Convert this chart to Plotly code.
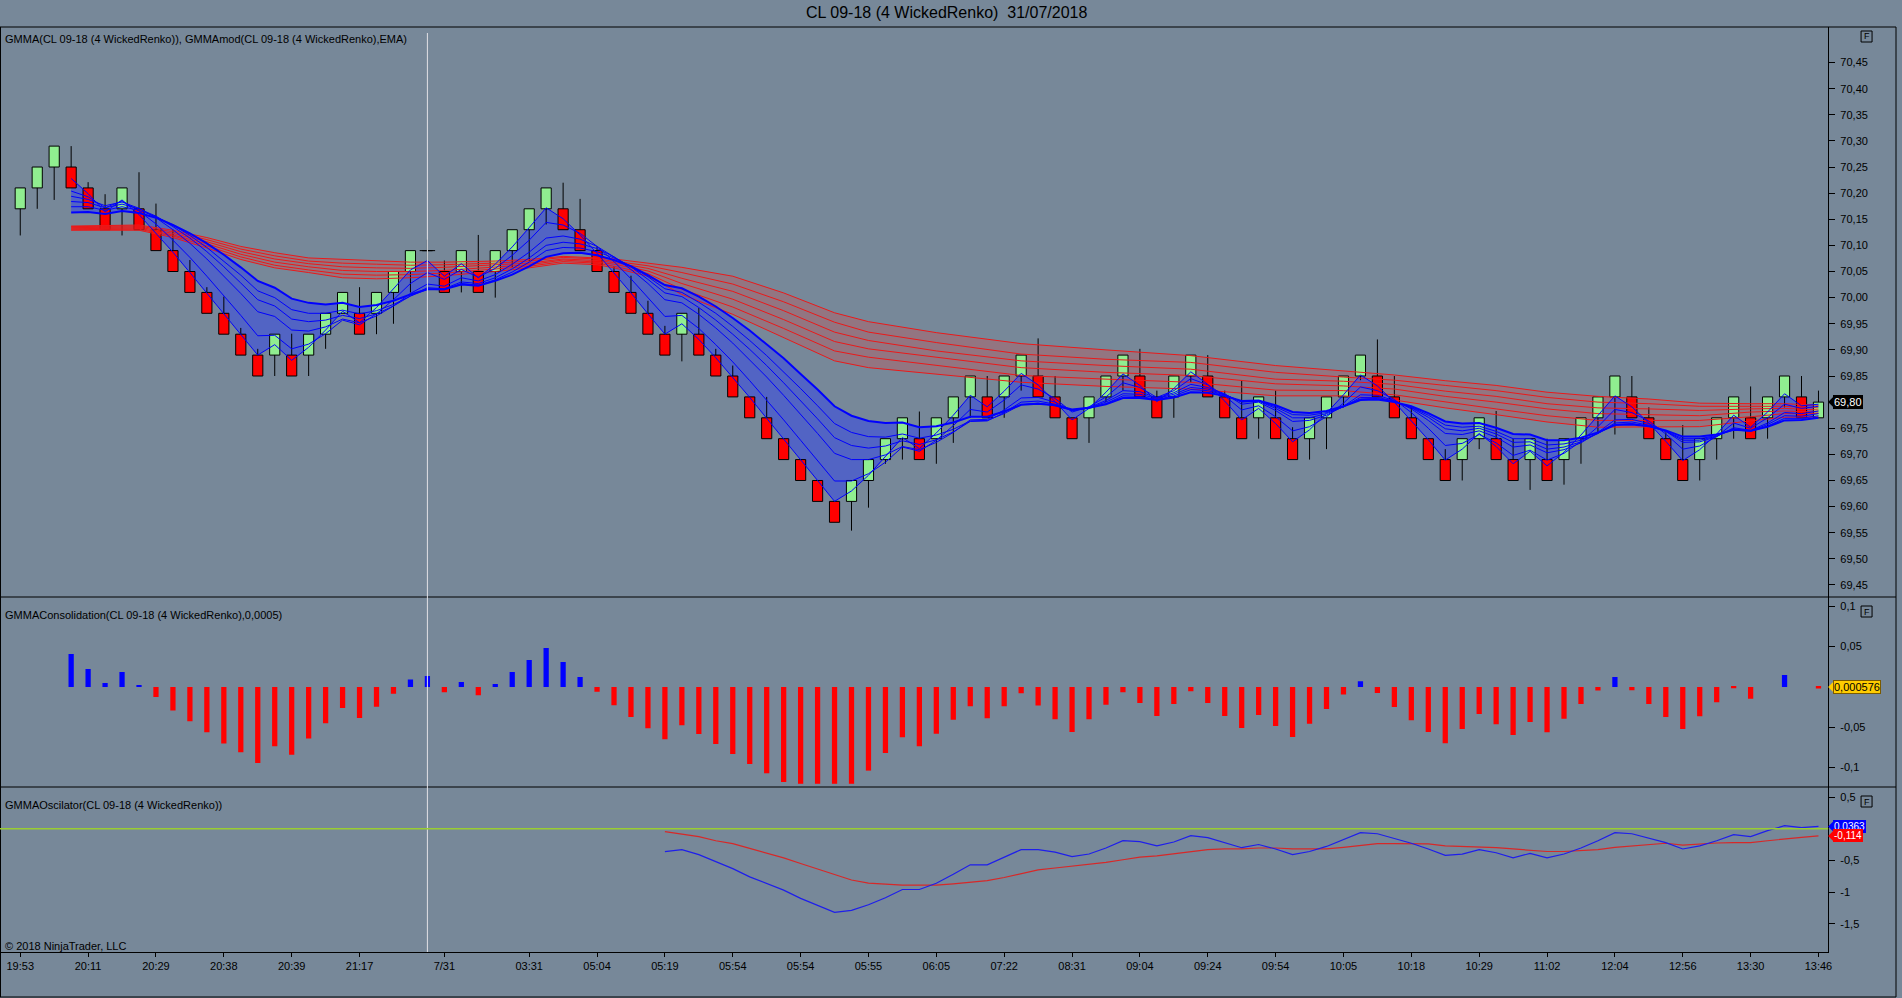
import plotly.graph_objects as go
from plotly.subplots import make_subplots

W, H = 1902, 998
FONT = 'Liberation Sans, Arial, sans-serif'
BG = '#778899'

chart_title = 'CL 09-18 (4 WickedRenko)  31/07/2018'
label_gmma = 'GMMA(CL 09-18 (4 WickedRenko)), GMMAmod(CL 09-18 (4 WickedRenko),EMA)'
label_cons = 'GMMAConsolidation(CL 09-18 (4 WickedRenko),0,0005)'
label_osc = 'GMMAOscilator(CL 09-18 (4 WickedRenko))'
label_copy = '\u00a9 2018 NinjaTrader, LLC'

# renko bricks, one per bar (bar 0 .. 106)
opens = [70.17, 70.21, 70.25, 70.25, 70.21, 70.17, 70.17, 70.17, 70.13, 70.09,
         70.05, 70.01, 69.97, 69.93, 69.89, 69.89, 69.89, 69.89, 69.93, 69.97,
         69.97, 69.97, 70.01, 70.05, 70.09, 70.05, 70.05, 70.05, 70.05, 70.09,
         70.13, 70.17, 70.17, 70.13, 70.09, 70.05, 70.01, 69.97, 69.93, 69.93,
         69.93, 69.89, 69.85, 69.81, 69.77, 69.73, 69.69, 69.65, 69.61, 69.61,
         69.65, 69.69, 69.73, 69.73, 69.73, 69.77, 69.81, 69.81, 69.81, 69.85,
         69.85, 69.81, 69.77, 69.77, 69.81, 69.85, 69.85, 69.81, 69.81, 69.85,
         69.85, 69.81, 69.77, 69.77, 69.77, 69.73, 69.73, 69.77, 69.81, 69.85,
         69.85, 69.81, 69.77, 69.73, 69.69, 69.69, 69.73, 69.73, 69.69, 69.69,
         69.69, 69.69, 69.73, 69.77, 69.81, 69.81, 69.77, 69.73, 69.69, 69.69,
         69.73, 69.77, 69.77, 69.77, 69.81, 69.81, 69.77]
highs = [70.21, 70.25, 70.29, 70.29, 70.221, 70.198, 70.21, 70.24, 70.18, 70.13,
         70.072, 70.02, 70.002, 69.942, 69.902, 69.93, 69.931, 69.93, 69.97, 70.01,
         70.02, 70.01, 70.05, 70.09, 70.111, 70.071, 70.09, 70.12, 70.09, 70.13,
         70.17, 70.21, 70.22, 70.189, 70.098, 70.06, 70.042, 69.994, 69.946, 69.97,
         69.98, 69.902, 69.87, 69.81, 69.81, 69.73, 69.69, 69.65, 69.61, 69.65,
         69.69, 69.73, 69.77, 69.782, 69.77, 69.81, 69.85, 69.85, 69.85, 69.89,
         69.922, 69.85, 69.77, 69.81, 69.85, 69.89, 69.902, 69.822, 69.85, 69.89,
         69.89, 69.822, 69.842, 69.81, 69.822, 69.752, 69.77, 69.81, 69.85, 69.89,
         69.92, 69.85, 69.79, 69.73, 69.71, 69.73, 69.77, 69.783, 69.73, 69.73,
         69.73, 69.73, 69.77, 69.81, 69.85, 69.85, 69.79, 69.742, 69.756, 69.73,
         69.77, 69.81, 69.83, 69.81, 69.85, 69.85, 69.822]
lows = [70.119, 70.17, 70.187, 70.21, 70.17, 70.13, 70.119, 70.13, 70.09, 70.05,
        70.01, 69.97, 69.93, 69.89, 69.85, 69.85, 69.85, 69.85, 69.902, 69.97,
        69.93, 69.93, 69.95, 70.01, 70.07, 70.01, 70.01, 70.01, 70.0, 70.058,
        70.07, 70.14, 70.13, 70.09, 70.05, 70.01, 69.97, 69.93, 69.89, 69.878,
        69.89, 69.85, 69.81, 69.77, 69.73, 69.69, 69.65, 69.61, 69.57, 69.554,
        69.598, 69.682, 69.69, 69.69, 69.682, 69.722, 69.77, 69.77, 69.77, 69.822,
        69.81, 69.77, 69.73, 69.722, 69.80, 69.822, 69.81, 69.77, 69.77, 69.838,
        69.81, 69.77, 69.73, 69.73, 69.73, 69.69, 69.69, 69.71, 69.79, 69.842,
        69.81, 69.77, 69.73, 69.69, 69.65, 69.65, 69.71, 69.69, 69.65, 69.632,
        69.65, 69.642, 69.682, 69.742, 69.738, 69.77, 69.73, 69.69, 69.65, 69.65,
        69.69, 69.73, 69.73, 69.73, 69.79, 69.77, 69.77]
closes = [70.21, 70.25, 70.29, 70.21, 70.17, 70.13, 70.21, 70.13, 70.09, 70.05,
          70.01, 69.97, 69.93, 69.89, 69.85, 69.93, 69.85, 69.93, 69.97, 70.01,
          69.93, 70.01, 70.05, 70.09, 70.09, 70.01, 70.09, 70.01, 70.09, 70.13,
          70.17, 70.21, 70.13, 70.09, 70.05, 70.01, 69.97, 69.93, 69.89, 69.97,
          69.89, 69.85, 69.81, 69.77, 69.73, 69.69, 69.65, 69.61, 69.57, 69.65,
          69.69, 69.73, 69.77, 69.69, 69.77, 69.81, 69.85, 69.77, 69.85, 69.89,
          69.81, 69.77, 69.73, 69.81, 69.85, 69.89, 69.81, 69.77, 69.85, 69.89,
          69.81, 69.77, 69.73, 69.81, 69.73, 69.69, 69.77, 69.81, 69.85, 69.89,
          69.81, 69.77, 69.73, 69.69, 69.65, 69.73, 69.77, 69.69, 69.65, 69.73,
          69.65, 69.73, 69.77, 69.81, 69.85, 69.77, 69.73, 69.69, 69.65, 69.73,
          69.77, 69.81, 69.73, 69.81, 69.85, 69.77, 69.80]

# short GMMA group (blue), bar 3 .. 106
gmma_start = 3
ema3 = [70.228, 70.199, 70.164, 70.187, 70.159, 70.124, 70.087, 70.048, 70.009, 69.970,
        69.930, 69.890, 69.910, 69.880, 69.905, 69.938, 69.974, 69.952, 69.981, 70.016,
        70.053, 70.071, 70.041, 70.065, 70.038, 70.064, 70.097, 70.134, 70.172, 70.151,
        70.120, 70.085, 70.048, 70.009, 69.969, 69.930, 69.950, 69.920, 69.885, 69.848,
        69.809, 69.769, 69.730, 69.690, 69.650, 69.610, 69.630, 69.660, 69.695, 69.732,
        69.711, 69.741, 69.775, 69.813, 69.791, 69.821, 69.855, 69.833, 69.801, 69.766,
        69.788, 69.819, 69.854, 69.832, 69.801, 69.826, 69.858, 69.834, 69.802, 69.766,
        69.788, 69.759, 69.724, 69.747, 69.779, 69.814, 69.852, 69.831, 69.800, 69.765,
        69.728, 69.689, 69.710, 69.740, 69.715, 69.682, 69.706, 69.678, 69.704, 69.737,
        69.774, 69.812, 69.791, 69.760, 69.725, 69.688, 69.709, 69.739, 69.775, 69.752,
        69.781, 69.816, 69.793, 69.796]
ema5 = [70.204, 70.193, 70.172, 70.185, 70.166, 70.141, 70.110, 70.077, 70.041, 70.004,
        69.966, 69.927, 69.928, 69.902, 69.911, 69.931, 69.957, 69.948, 69.969, 69.996,
        70.027, 70.048, 70.035, 70.054, 70.039, 70.056, 70.081, 70.110, 70.144, 70.139,
        70.123, 70.098, 70.069, 70.036, 70.001, 69.964, 69.966, 69.941, 69.910, 69.877,
        69.841, 69.804, 69.766, 69.727, 69.688, 69.649, 69.649, 69.663, 69.685, 69.714,
        69.706, 69.727, 69.755, 69.786, 69.781, 69.804, 69.833, 69.825, 69.807, 69.781,
        69.791, 69.810, 69.837, 69.828, 69.809, 69.822, 69.845, 69.833, 69.812, 69.785,
        69.793, 69.772, 69.745, 69.753, 69.772, 69.798, 69.829, 69.822, 69.805, 69.780,
        69.750, 69.717, 69.721, 69.738, 69.722, 69.698, 69.708, 69.689, 69.702, 69.725,
        69.753, 69.786, 69.780, 69.764, 69.739, 69.710, 69.716, 69.734, 69.760, 69.750,
        69.770, 69.796, 69.788, 69.792]
ema8 = [70.194, 70.188, 70.176, 70.183, 70.171, 70.153, 70.130, 70.104, 70.074, 70.042,
        70.008, 69.973, 69.964, 69.938, 69.936, 69.944, 69.959, 69.952, 69.965, 69.984,
        70.008, 70.026, 70.022, 70.038, 70.032, 70.044, 70.064, 70.087, 70.114, 70.118,
        70.112, 70.098, 70.078, 70.054, 70.027, 69.996, 69.990, 69.968, 69.942, 69.913,
        69.881, 69.848, 69.813, 69.777, 69.740, 69.702, 69.690, 69.690, 69.699, 69.715,
        69.709, 69.723, 69.742, 69.766, 69.767, 69.785, 69.808, 69.809, 69.800, 69.784,
        69.790, 69.803, 69.822, 69.820, 69.808, 69.818, 69.834, 69.828, 69.816, 69.796,
        69.800, 69.784, 69.763, 69.765, 69.775, 69.792, 69.814, 69.813, 69.803, 69.787,
        69.765, 69.740, 69.738, 69.745, 69.733, 69.714, 69.718, 69.703, 69.709, 69.722,
        69.742, 69.766, 69.767, 69.759, 69.744, 69.723, 69.724, 69.734, 69.751, 69.746,
        69.760, 69.780, 69.778, 69.783]
ema10 = [70.184, 70.182, 70.172, 70.179, 70.170, 70.156, 70.136, 70.114, 70.088, 70.059,
         70.028, 69.996, 69.984, 69.959, 69.954, 69.957, 69.966, 69.960, 69.969, 69.984,
         70.003, 70.019, 70.017, 70.030, 70.027, 70.038, 70.055, 70.076, 70.100, 70.106,
         70.103, 70.094, 70.078, 70.059, 70.035, 70.009, 70.002, 69.981, 69.957, 69.930,
         69.901, 69.870, 69.837, 69.803, 69.768, 69.732, 69.717, 69.712, 69.716, 69.726,
         69.719, 69.728, 69.743, 69.763, 69.764, 69.780, 69.800, 69.802, 69.796, 69.784,
         69.789, 69.800, 69.816, 69.815, 69.807, 69.815, 69.828, 69.825, 69.815, 69.800,
         69.802, 69.788, 69.770, 69.770, 69.778, 69.791, 69.809, 69.809, 69.802, 69.789,
         69.771, 69.749, 69.745, 69.750, 69.739, 69.723, 69.724, 69.710, 69.714, 69.724,
         69.740, 69.760, 69.762, 69.756, 69.744, 69.727, 69.727, 69.735, 69.749, 69.745,
         69.757, 69.774, 69.773, 69.778]
ema12 = [70.174, 70.174, 70.167, 70.174, 70.167, 70.155, 70.139, 70.119, 70.096, 70.070,
         70.043, 70.013, 70.000, 69.977, 69.970, 69.970, 69.976, 69.969, 69.975, 69.987,
         70.003, 70.016, 70.015, 70.027, 70.024, 70.034, 70.049, 70.068, 70.090, 70.096,
         70.095, 70.088, 70.076, 70.060, 70.040, 70.017, 70.010, 69.991, 69.970, 69.945,
         69.918, 69.889, 69.858, 69.826, 69.793, 69.759, 69.742, 69.734, 69.733, 69.739,
         69.731, 69.737, 69.748, 69.764, 69.765, 69.778, 69.795, 69.798, 69.793, 69.784,
         69.788, 69.797, 69.812, 69.811, 69.805, 69.812, 69.824, 69.822, 69.814, 69.801,
         69.802, 69.791, 69.776, 69.775, 69.780, 69.791, 69.806, 69.807, 69.801, 69.790,
         69.775, 69.756, 69.752, 69.754, 69.744, 69.730, 69.730, 69.718, 69.720, 69.727,
         69.740, 69.757, 69.759, 69.754, 69.744, 69.730, 69.730, 69.736, 69.747, 69.744,
         69.754, 69.769, 69.769, 69.774]
ema15 = [70.163, 70.164, 70.160, 70.166, 70.162, 70.153, 70.139, 70.123, 70.104, 70.082,
         70.058, 70.032, 70.019, 69.998, 69.990, 69.987, 69.990, 69.982, 69.986, 69.994,
         70.006, 70.016, 70.016, 70.025, 70.023, 70.032, 70.044, 70.060, 70.078, 70.085,
         70.086, 70.081, 70.072, 70.060, 70.043, 70.024, 70.018, 70.002, 69.983, 69.961,
         69.937, 69.911, 69.884, 69.854, 69.824, 69.792, 69.774, 69.764, 69.760, 69.761,
         69.752, 69.754, 69.761, 69.772, 69.772, 69.782, 69.795, 69.797, 69.794, 69.786,
         69.789, 69.796, 69.808, 69.808, 69.804, 69.809, 69.819, 69.818, 69.812, 69.802,
         69.803, 69.794, 69.781, 69.779, 69.783, 69.792, 69.804, 69.805, 69.800, 69.792,
         69.779, 69.763, 69.759, 69.760, 69.751, 69.739, 69.738, 69.727, 69.727, 69.732,
         69.742, 69.756, 69.757, 69.754, 69.746, 69.734, 69.734, 69.738, 69.747, 69.745,
         69.753, 69.765, 69.766, 69.770]

# long GMMA group (red), read at these bars, top line to bottom line
red_bars = [3, 7, 9, 11, 13, 15, 17, 19, 21, 23, 25, 28, 30, 32, 34, 35, 37, 39, 42,
            45, 48, 50, 54, 59, 64, 69, 74, 78, 81, 84, 87, 90, 93, 96, 99, 102, 104, 106]
red_1 = [70.137, 70.139, 70.129, 70.115, 70.098, 70.086, 70.076, 70.073, 70.070, 70.068,
         70.068, 70.070, 70.073, 70.079, 70.076, 70.074, 70.066, 70.058, 70.041, 70.009,
         69.971, 69.954, 69.933, 69.912, 69.900, 69.889, 69.870, 69.859, 69.852, 69.841,
         69.832, 69.819, 69.811, 69.806, 69.798, 69.797, 69.797, 69.794]
red_2 = [70.136, 70.137, 70.126, 70.111, 70.093, 70.080, 70.070, 70.066, 70.064, 70.062,
         70.063, 70.066, 70.070, 70.077, 70.074, 70.070, 70.061, 70.048, 70.026, 69.992,
         69.953, 69.934, 69.914, 69.892, 69.882, 69.876, 69.857, 69.848, 69.842, 69.832,
         69.822, 69.809, 69.800, 69.797, 69.792, 69.792, 69.792, 69.789]
red_3 = [70.134, 70.135, 70.123, 70.107, 70.088, 70.074, 70.065, 70.059, 70.057, 70.056,
         70.058, 70.062, 70.066, 70.074, 70.071, 70.067, 70.056, 70.037, 70.012, 69.975,
         69.934, 69.918, 69.898, 69.879, 69.870, 69.863, 69.844, 69.840, 69.834, 69.821,
         69.811, 69.797, 69.789, 69.787, 69.784, 69.787, 69.788, 69.785]
red_4 = [70.132, 70.133, 70.120, 70.103, 70.083, 70.068, 70.059, 70.052, 70.050, 70.050,
         70.052, 70.058, 70.063, 70.072, 70.068, 70.064, 70.051, 70.027, 69.997, 69.958,
         69.916, 69.902, 69.886, 69.866, 69.857, 69.851, 69.835, 69.831, 69.825, 69.811,
         69.800, 69.787, 69.778, 69.776, 69.774, 69.781, 69.783, 69.781]
red_5 = [70.130, 70.131, 70.118, 70.099, 70.078, 70.062, 70.053, 70.045, 70.043, 70.044,
         70.047, 70.054, 70.060, 70.069, 70.066, 70.060, 70.046, 70.016, 69.982, 69.941,
         69.898, 69.886, 69.870, 69.851, 69.844, 69.838, 69.823, 69.822, 69.814, 69.800,
         69.787, 69.774, 69.765, 69.765, 69.765, 69.772, 69.778, 69.778]
red_6 = [70.129, 70.129, 70.115, 70.095, 70.073, 70.057, 70.048, 70.038, 70.036, 70.038,
         70.042, 70.050, 70.057, 70.066, 70.063, 70.057, 70.041, 70.006, 69.968, 69.924,
         69.879, 69.866, 69.854, 69.838, 69.830, 69.825, 69.812, 69.812, 69.804, 69.789,
         69.776, 69.762, 69.752, 69.753, 69.753, 69.764, 69.771, 69.772]

# GMMAConsolidation histogram, bar 3 .. 106
cons_start = 3
consolidation = [0.0409, 0.0223, 0.005, 0.0186, 0.002, -0.0124, -0.0293, -0.0426, -0.0562, -0.0702,
                 -0.081, -0.0942, -0.0736, -0.0839, -0.064, -0.045, -0.026, -0.0384, -0.0244, -0.0083,
                 0.0091, 0.0136, -0.0066, 0.0062, -0.0103, 0.0037, 0.0186, 0.0335, 0.0483, 0.031,
                 0.0124, -0.0058, -0.0227, -0.0372, -0.0512, -0.0649, -0.0475, -0.0583, -0.0707, -0.0831,
                 -0.0955, -0.107, -0.1178, -0.12, -0.12, -0.12, -0.12, -0.1037, -0.0818, -0.0624,
                 -0.0736, -0.0579, -0.0405, -0.024, -0.0388, -0.024, -0.0079, -0.0231, -0.0401, -0.0558,
                 -0.0401, -0.0219, -0.0066, -0.0198, -0.036, -0.0211, -0.0054, -0.0198, -0.036, -0.0508,
                 -0.0347, -0.0483, -0.062, -0.0455, -0.0273, -0.0095, 0.007, -0.0074, -0.0248, -0.0413,
                 -0.0558, -0.0698, -0.052, -0.0335, -0.0463, -0.0595, -0.0434, -0.0562, -0.0393, -0.0211,
                 -0.0045, 0.0124, -0.0041, -0.0211, -0.0372, -0.052, -0.0364, -0.019, -0.0017, -0.0145,
                 0.0, 0.0149, 0.0, -0.002]
cons_last = 0.000576

# GMMAOscilator, bar 38 .. 106
osc_start = 38
osc_blue = [-0.363, -0.33, -0.41, -0.52, -0.63, -0.76, -0.86, -0.97, -1.10, -1.21,
            -1.32, -1.29, -1.20, -1.09, -0.96, -0.96, -0.86, -0.72, -0.57, -0.57,
            -0.45, -0.33, -0.33, -0.37, -0.44, -0.40, -0.305, -0.19, -0.205, -0.27,
            -0.21, -0.11, -0.14, -0.22, -0.30, -0.25, -0.32, -0.41, -0.36, -0.28,
            -0.17, -0.063, -0.08, -0.15, -0.23, -0.32, -0.42, -0.40, -0.33, -0.38,
            -0.46, -0.39, -0.46, -0.40, -0.305, -0.19, -0.063, -0.08, -0.15, -0.22,
            -0.32, -0.27, -0.19, -0.095, -0.126, -0.03, 0.047, 0.016, 0.0363]
osc_red = [-0.047, -0.084, -0.126, -0.19, -0.237, -0.31, -0.38, -0.46, -0.55, -0.64,
           -0.73, -0.81, -0.86, -0.88, -0.89, -0.89, -0.89, -0.87, -0.85, -0.82,
           -0.77, -0.71, -0.65, -0.62, -0.59, -0.57, -0.53, -0.49, -0.45, -0.43,
           -0.40, -0.36, -0.33, -0.32, -0.32, -0.305, -0.305, -0.32, -0.32, -0.32,
           -0.295, -0.27, -0.237, -0.237, -0.237, -0.24, -0.27, -0.28, -0.28, -0.30,
           -0.32, -0.34, -0.36, -0.36, -0.35, -0.33, -0.295, -0.27, -0.25, -0.23,
           -0.26, -0.24, -0.226, -0.22, -0.22, -0.19, -0.158, -0.137, -0.114]

# time axis
tick_bars = [0, 4, 8, 12, 16, 20, 25, 30, 34, 38, 42, 46, 50, 54, 58, 62, 66, 70, 74,
             78, 82, 86, 90, 94, 98, 102, 106]
tick_labels = ['19:53', '20:11', '20:29', '20:38', '20:39', '21:17', '7/31', '03:31', '05:04',
               '05:19', '05:54', '05:54', '05:55', '06:05', '07:22', '08:31', '09:04', '09:24',
               '09:54', '10:05', '10:18', '10:29', '11:02', '12:04', '12:56', '13:30', '13:46']
session_break = 24

# 69,80 sits under the last-price marker, so it is left out of the scale
price_ticks = [69.45, 69.50, 69.55, 69.60, 69.65, 69.70, 69.75, 69.85, 69.90, 69.95,
               70.00, 70.05, 70.10, 70.15, 70.20, 70.25, 70.30, 70.35, 70.40, 70.45]
cons_ticks = [0.1, 0.05, -0.05, -0.1]
cons_tick_text = ['0,1', '0,05', '-0,05', '-0,1']
osc_ticks = [0.5, -0.5, -1, -1.5]
osc_tick_text = ['0,5', '-0,5', '-1', '-1,5']


def px_x(p):
    return p / W


def px_y(p):
    return 1 - p / H


def comma(v, fmt):
    return format(v, fmt).replace('.', ',')


def band_path(xs, upper, lower):
    # closed polygon: along the upper line, back along the lower one
    pts = list(zip(xs, upper)) + list(zip(xs, lower))[::-1]
    return 'M' + ' L'.join(f'{x},{y}' for x, y in pts) + ' Z'


bars = list(range(len(opens)))
gmma_x = list(range(gmma_start, gmma_start + len(ema3)))
cons_x = list(range(cons_start, cons_start + len(consolidation)))
osc_x = list(range(osc_start, osc_start + len(osc_blue)))

body_lo = [min(o, c) for o, c in zip(opens, closes)]
body_hi = [max(o, c) for o, c in zip(opens, closes)]
body_len = [h - l for h, l in zip(body_hi, body_lo)]
body_col = ['#90EE90' if c > o else '#FF0000' for o, c in zip(opens, closes)]

# wick pieces outside the body only (scatter is drawn above the bars)
wick_x, wick_y = [], []
for i in bars:
    if highs[i] > body_hi[i]:
        wick_x += [i, i, None]
        wick_y += [body_hi[i], highs[i], None]
    if lows[i] < body_lo[i]:
        wick_x += [i, i, None]
        wick_y += [lows[i], body_lo[i], None]
doji_x = [i for i in bars if opens[i] == closes[i]]
doji_y = [closes[i] for i in doji_x]

fig = make_subplots(rows=3, cols=1, shared_xaxes=True, vertical_spacing=0)

fig.add_trace(go.Bar(x=bars, y=body_len, base=body_lo, width=0.6,
                     marker=dict(color=body_col, line=dict(color='black', width=1)),
                     hoverinfo='skip'), row=1, col=1)
fig.add_trace(go.Scatter(x=wick_x, y=wick_y, mode='lines',
                         line=dict(color='black', width=1), hoverinfo='skip'), row=1, col=1)
fig.add_trace(go.Scatter(x=doji_x, y=doji_y, mode='markers',
                         marker=dict(symbol='line-ew', size=11,
                                     line=dict(color='black', width=1)),
                         hoverinfo='skip'), row=1, col=1)

for vals in [red_1, red_2, red_3, red_4, red_5, red_6]:
    fig.add_trace(go.Scatter(x=red_bars, y=vals, mode='lines',
                             line=dict(color='rgb(235,25,25)', width=1),
                             hoverinfo='skip'), row=1, col=1)

for vals, lw in [(ema3, 1), (ema5, 1), (ema8, 1), (ema10, 1), (ema12, 1), (ema15, 2)]:
    fig.add_trace(go.Scatter(x=gmma_x, y=vals, mode='lines',
                             line=dict(color='#0000FF', width=lw),
                             hoverinfo='skip'), row=1, col=1)

fig.add_trace(go.Bar(x=cons_x, y=consolidation, width=0.31,
                     marker=dict(color=['#0000FF' if v > 0 else '#FF0000' for v in consolidation],
                                 line=dict(width=0)),
                     hoverinfo='skip'), row=2, col=1)

fig.add_trace(go.Scatter(x=osc_x, y=osc_red, mode='lines',
                         line=dict(color='rgb(215,40,40)', width=1.2), hoverinfo='skip'), row=3, col=1)
fig.add_trace(go.Scatter(x=osc_x, y=osc_blue, mode='lines',
                         line=dict(color='rgb(30,30,235)', width=1.2), hoverinfo='skip'), row=3, col=1)

x_range = [-1.194, 106.57]
for ax in ['xaxis', 'xaxis2', 'xaxis3']:
    fig.layout[ax].update(domain=[0, px_x(1832)], range=x_range, showgrid=False,
                          zeroline=False, showticklabels=False, ticks='')
fig.layout.xaxis3.update(showticklabels=True, tickvals=tick_bars, ticktext=tick_labels,
                         ticks='outside', ticklen=4, tickcolor='black',
                         showline=True, linecolor='black', linewidth=1,
                         tickfont=dict(size=11, color='black', family=FONT))

yax = dict(side='right', ticks='outside', ticklen=6, tickcolor='black', showline=True,
           linecolor='black', linewidth=1, showgrid=False, zeroline=False,
           ticklabelstandoff=3, tickfont=dict(size=11, color='black', family=FONT))
fig.layout.yaxis.update(domain=[px_y(597), px_y(27)], range=[69.427, 70.518],
                        tickvals=price_ticks, tickformat='.2f', **yax)
fig.layout.yaxis2.update(domain=[px_y(787), px_y(597)], range=[-0.124, 0.1115],
                         tickvals=cons_ticks, ticktext=cons_tick_text, **yax)
fig.layout.yaxis3.update(domain=[px_y(952), px_y(787)], range=[-1.946, 0.658],
                         tickvals=osc_ticks, ticktext=osc_tick_text, **yax)

shapes = [
    # GMMA ribbons under the bricks
    dict(type='path', xref='x', yref='y', layer='below', path=band_path(red_bars, red_1, red_6),
         fillcolor='rgba(230,60,60,0.25)', line=dict(width=0)),
    dict(type='path', xref='x', yref='y', layer='below', path=band_path(gmma_x, ema15, ema3),
         fillcolor='rgba(30,50,255,0.42)', line=dict(width=0)),
]
frame = dict(type='line', xref='paper', yref='paper', line=dict(color='black', width=1), layer='above')
for yy in [27, 597, 787, 997]:
    shapes.append(dict(frame, x0=0, x1=px_x(1900), y0=px_y(yy), y1=px_y(yy)))
for xx in [0.5, 1900]:
    shapes.append(dict(frame, x0=px_x(xx), x1=px_x(xx), y0=px_y(27), y1=px_y(997)))
# session break
shapes.append(dict(type='line', xref='x', yref='paper', x0=session_break, x1=session_break,
                   y0=px_y(952), y1=px_y(33), line=dict(color='rgb(225,225,230)', width=1)))
# oscillator zero line
shapes.append(dict(type='line', xref='paper', yref='y3', x0=0, x1=px_x(1832), y0=0, y1=0,
                   line=dict(color='#9ACD32', width=1.5)))
# F boxes
for top in [31, 606, 796]:
    shapes.append(dict(type='rect', xref='paper', yref='paper', x0=px_x(1865), x1=px_x(1876),
                       y0=px_y(top + 11), y1=px_y(top), line=dict(color='black', width=1)))

annotations = [
    dict(text=chart_title, x=px_x(948), y=px_y(13), font=dict(size=16)),
    dict(text=label_gmma, x=px_x(3), y=px_y(39), xanchor='left', font=dict(size=11)),
    dict(text=label_cons, x=px_x(3), y=px_y(615), xanchor='left', font=dict(size=11)),
    dict(text=label_osc, x=px_x(3), y=px_y(805), xanchor='left', font=dict(size=11)),
    dict(text=label_copy, x=px_x(3), y=px_y(946), xanchor='left', font=dict(size=11)),
]
for top in [31, 606, 796]:
    annotations.append(dict(text='F', x=px_x(1870.5), y=px_y(top + 5.5), font=dict(size=9)))
for a in annotations:
    a.update(xref='paper', yref='paper', showarrow=False)
    a.setdefault('xanchor', 'center')
    a['yanchor'] = 'middle'
    a['font'].update(family=FONT, color='black')

# value markers on the right scale
markers = [
    ('y', closes[-1], comma(closes[-1], '.2f'), 'black', 'white', 'black'),
    ('y2', 0, comma(cons_last, '.6f'), '#FFCC00', 'black', '#7a5a00'),
    ('y3', osc_blue[-1], comma(osc_blue[-1], '.3g'), '#0000FF', 'white', '#0000FF'),
    ('y3', osc_red[-1], comma(osc_red[-1], '.3g'), '#FF0000', 'white', '#FF0000'),
]
for yref, yv, txt, fill, fc, border in markers:
    shapes.append(dict(type='path', xref='paper', yref=yref, xsizemode='pixel', ysizemode='pixel',
                       xanchor=px_x(1832), yanchor=yv, path='M0,0 L6,6 L6,-6 Z',
                       fillcolor=fill, line=dict(width=0)))
    annotations.append(dict(text=txt, xref='paper', yref=yref, x=px_x(1837), y=yv,
                            xanchor='left', yanchor='middle', showarrow=False,
                            bgcolor=fill, bordercolor=border, borderwidth=1, borderpad=0,
                            font=dict(family=FONT, size=11 if yref != 'y3' else 10, color=fc)))

fig.update_layout(width=W, height=H, margin=dict(l=0, r=0, t=0, b=0),
                  paper_bgcolor=BG, plot_bgcolor=BG, showlegend=False,
                  separators=',.', barmode='overlay',
                  font=dict(family=FONT, size=11, color='black'),
                  shapes=shapes, annotations=annotations)

fig.write_html('out.html', config={'displayModeBar': False},
               post_script="document.body.style.margin='0';document.body.style.overflow='hidden';")
